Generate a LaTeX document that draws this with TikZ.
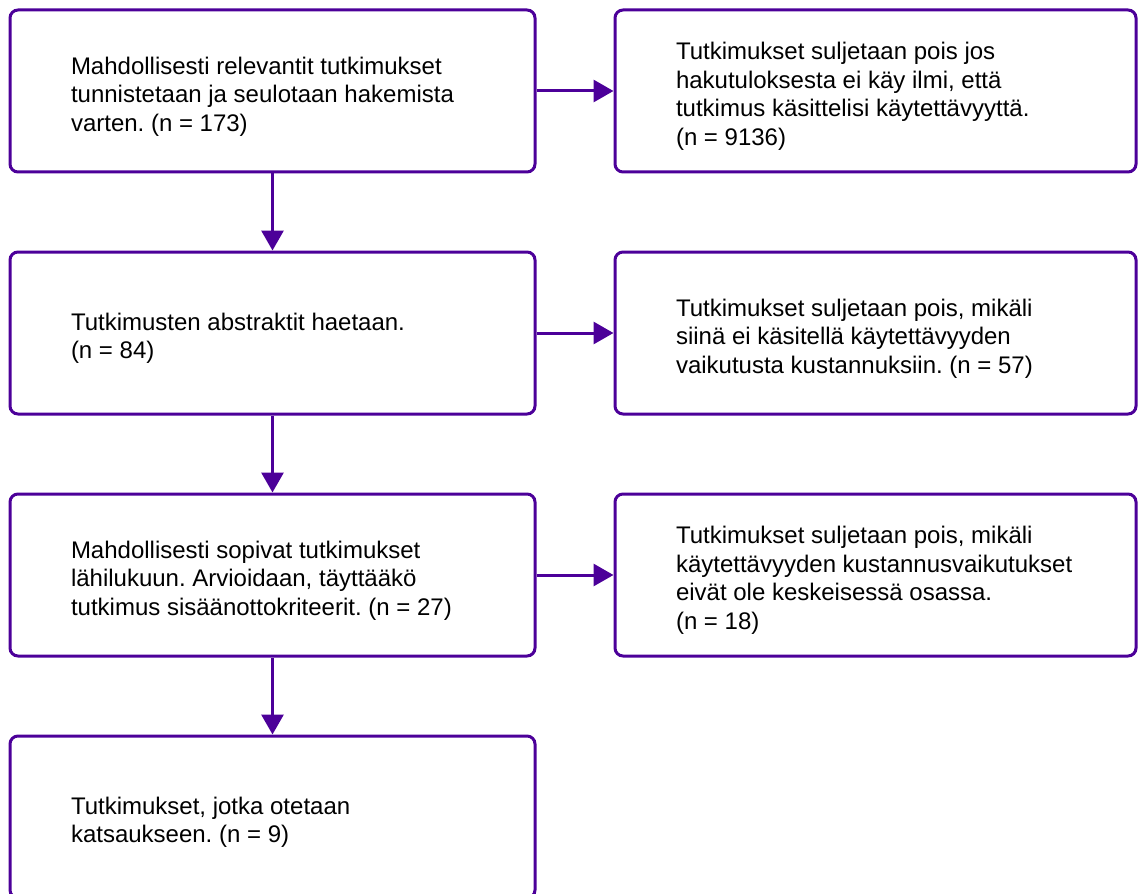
\documentclass[tikz,border=0pt]{standalone}
\usepackage{fontspec}
\setmainfont{Liberation Sans}
\frenchspacing
\usetikzlibrary{positioning,arrows.meta}
\definecolor{flowpurple}{HTML}{4C0099}

\begin{document}
\begin{tikzpicture}[->,>={Triangle[length=10pt,width=11pt]},line width=1.5pt,node distance=121pt,
    box/.style={draw=flowpurple,rounded corners=4pt,minimum height=81pt,inner sep=0pt},
    leftbox/.style={box,minimum width=262.5pt},
    rightbox/.style={box,minimum width=260.5pt},
    txt/.style={inner sep=0pt,align=left,yshift=-2.75pt,font=\fontsize{12pt}{14.25pt}\selectfont}]

                \clip (0,0) rectangle (569pt,-446.5pt);

                \node[leftbox]  (1) at (136.25pt,-45.5pt) {};
                \node[leftbox]  (2) [below of = 1] {};
                \node[leftbox]  (3) [below of = 2] {};
                \node[leftbox]  (4) [below of = 3] {};

                \node[rightbox]  (1b) [right of = 1, node distance=301.5pt] {};
                \node[rightbox]  (2b) [below of = 1b] {};
                \node[rightbox]  (3b) [below of = 2b] {};

                \node[txt]  (t1) [right=30.5pt of 1.west] {Mahdollisesti relevantit tutkimukset\\tunnistetaan ja seulotaan hakemista\\varten. (n = 173)};
                \node[txt]  (t2) [right=30.5pt of 2.west] {Tutkimusten abstraktit haetaan.\\(n = 84)};
                \node[txt]  (t3) [right=30.5pt of 3.west] {Mahdollisesti sopivat tutkimukset\\lähilukuun. Arvioidaan, täyttääkö\\tutkimus sisäänottokriteerit. (n = 27)};
                \node[txt]  (t4) [right=30.5pt of 4.west] {Tutkimukset, jotka otetaan\\katsaukseen. (n = 9)};

                \node[txt]  (t1b) [right=30.5pt of 1b.west] {Tutkimukset suljetaan pois jos\\hakutuloksesta ei käy ilmi, että\\tutkimus käsittelisi käytettävyyttä.\\(n = 9136)};
                \node[txt]  (t2b) [right=30.5pt of 2b.west] {Tutkimukset suljetaan pois, mikäli\\siinä ei käsitellä käytettävyyden\\vaikutusta kustannuksiin. (n = 57)};
                \node[txt]  (t3b) [right=30.5pt of 3b.west] {Tutkimukset suljetaan pois, mikäli\\käytettävyyden kustannusvaikutukset\\eivät ole keskeisessä osassa.\\(n = 18)};

                \path[every edge/.append style={draw=flowpurple}]

                (1) edge (2)
                (2) edge (3)
                (3) edge (4)

                (1) edge (1b)
                (2) edge (2b)
                (3) edge (3b)
            ;
            \end{tikzpicture}
\end{document}
